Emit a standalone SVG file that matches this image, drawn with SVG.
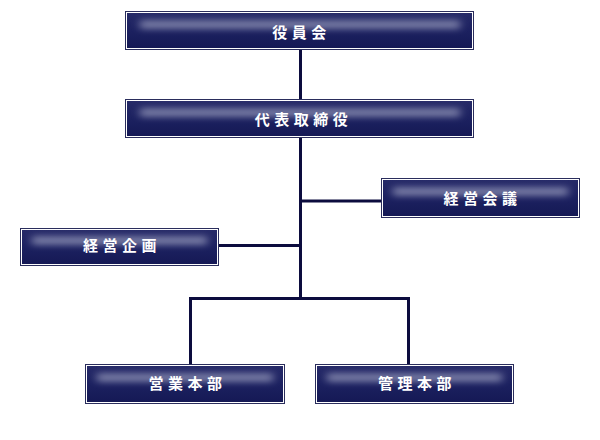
<svg xmlns="http://www.w3.org/2000/svg" width="600" height="440" viewBox="0 0 600 440">
<defs>
<linearGradient id="fill" x1="0" y1="0" x2="0" y2="1">
<stop offset="0" stop-color="#262a68"/>
<stop offset="0.5" stop-color="#1c2160"/>
<stop offset="1" stop-color="#151955"/>
</linearGradient>
<filter id="blur" x="-10%" y="-150%" width="120%" height="400%">
<feGaussianBlur stdDeviation="4 3"/>
</filter>
<style>
.frame{fill:#ffffff;stroke:#2a2d5c;stroke-width:1}
.bg{fill:url(#fill)}
.band{fill:#8a8eb2;opacity:0.8;filter:url(#blur)}
.lbl{fill:#ffffff;font-family:"Noto Sans CJK JP","Noto Sans CJK SC",sans-serif;font-weight:bold;font-size:15px;letter-spacing:4.5px;text-anchor:middle}
.ln{stroke:#0c0c3e;stroke-width:3;fill:none}
</style>
</defs>
<g id="connectors">
<line class="ln" x1="300.5" y1="50" x2="300.5" y2="100"/>
<line class="ln" x1="300.5" y1="138" x2="300.5" y2="298.5"/>
<line class="ln" x1="300.5" y1="201" x2="381" y2="201"/>
<line class="ln" x1="219" y1="245.5" x2="300.5" y2="245.5"/>
<polyline class="ln" points="190.5,364 190.5,298.5 408.5,298.5 408.5,364"/>
</g>
<g id="n1">
<rect class="frame" x="125.5" y="11.5" width="348" height="38"/>
<rect class="bg" x="127" y="13" width="345" height="35"/>
<rect class="band" x="140" y="20" width="320" height="9"/>
<text class="lbl" x="301.5" y="37.5">役員会</text>
</g>
<g id="n2">
<rect class="frame" x="125.5" y="99.5" width="348" height="38"/>
<rect class="bg" x="127" y="101" width="345" height="35"/>
<rect class="band" x="140" y="108" width="320" height="9"/>
<text class="lbl" x="303.5" y="124.5">代表取締役</text>
</g>
<g id="n3">
<rect class="frame" x="381.5" y="178.5" width="198" height="39"/>
<rect class="bg" x="383" y="180" width="195" height="36"/>
<rect class="band" x="393" y="187" width="175" height="9"/>
<text class="lbl" x="482.5" y="204">経営会議</text>
</g>
<g id="n4">
<rect class="frame" x="20.5" y="228.5" width="198" height="37"/>
<rect class="bg" x="22" y="230" width="195" height="34"/>
<rect class="band" x="32" y="236" width="175" height="9"/>
<text class="lbl" x="122" y="251">経営企画</text>
</g>
<g id="n5">
<rect class="frame" x="85.5" y="364.5" width="199" height="39"/>
<rect class="bg" x="87" y="366" width="196" height="36"/>
<rect class="band" x="97" y="373" width="176" height="9"/>
<text class="lbl" x="187.5" y="389">営業本部</text>
</g>
<g id="n6">
<rect class="frame" x="315.5" y="364.5" width="198" height="39"/>
<rect class="bg" x="317" y="366" width="195" height="36"/>
<rect class="band" x="327" y="373" width="175" height="9"/>
<text class="lbl" x="417" y="389">管理本部</text>
</g>
</svg>
